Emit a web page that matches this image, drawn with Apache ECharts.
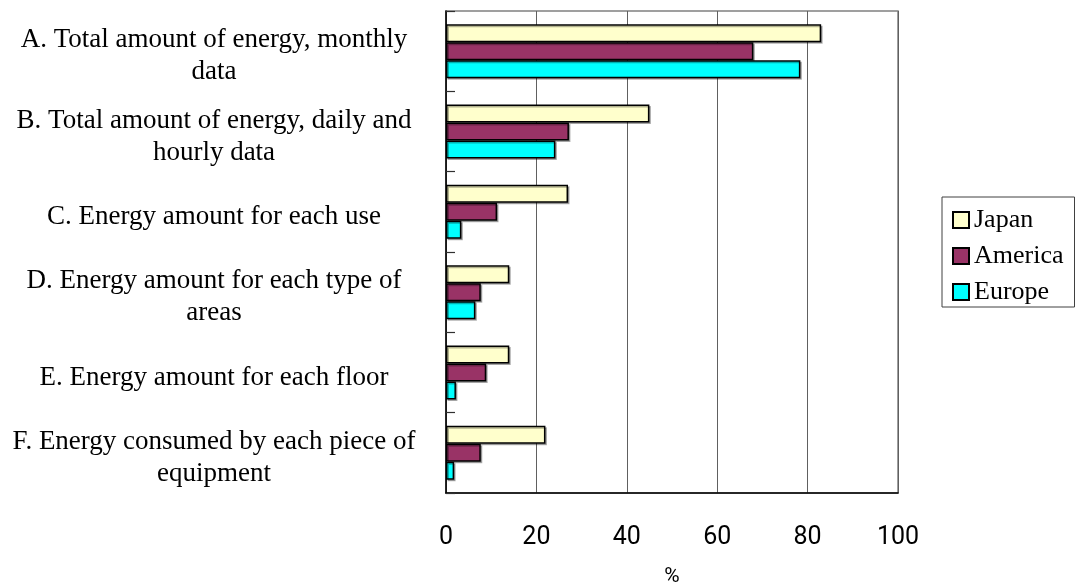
<!DOCTYPE html>
<html>
<head>
<meta charset="utf-8">
<script src="https://cdn.jsdelivr.net/npm/echarts@6/dist/echarts.min.js"></script>
<style>
  html, body { margin: 0; padding: 0; background: #ffffff; }
  #chart { width: 1081px; height: 585px; }
</style>
</head>
<body>
<div id="chart"></div>
<script>
// Categories of energy data collected (top to bottom)
const categories = [
  'A. Total amount of energy, monthly\ndata',
  'B. Total amount of energy, daily and\nhourly data',
  'C. Energy amount for each use',
  'D. Energy amount for each type of\nareas',
  'E. Energy amount for each floor',
  'F. Energy consumed by each piece of\nequipment'
];

// Share of buildings (%) per region
const japan   = [83, 45, 27, 14, 14, 22];
const america = [68, 27.2, 11.3, 7.7, 8.9, 7.7];
const europe  = [78.4, 24.2, 3.4, 6.5, 2.2, 1.8];

const seriesNames = ['Japan', 'America', 'Europe'];
const seriesColors = ['#FFFFCC', '#993366', '#00FFFF'];
const seriesData = [japan, america, europe];

const chart = echarts.init(document.getElementById('chart'), null, { renderer: 'canvas' });

const serif = '"Liberation Serif", "Times New Roman", serif';
const sans = 'Roboto, "Liberation Sans", sans-serif';

// First line gets a taller, bottom-aligned spacer so the label block sits a little lower
function categoryLabel(value) {
  return value.split('\n').map((line, i) =>
    (i === 0 ? '{s|\u200b}' : '') + '{t|' + line + '}'
  ).join('\n');
}

chart.setOption({
  animation: false,
  backgroundColor: '#ffffff',
  grid: {
    left: 446, top: 11, right: 183, bottom: 92,
    show: true,
    borderColor: '#808080',
    borderWidth: 1.5,
    containLabel: false,
    outerBoundsMode: 'none'
  },
  legend: {
    orient: 'vertical',
    left: 942,
    top: 197,
    padding: [10, 11, 2, 10],
    icon: 'rect',
    itemWidth: 16,
    itemHeight: 16,
    itemGap: 10,
    textStyle: { fontFamily: serif, fontSize: 26, color: '#000000' },
    borderColor: '#404040',
    borderWidth: 1,
    data: seriesNames
  },
  xAxis: {
    type: 'value',
    min: 0,
    max: 100,
    interval: 20,
    name: '%',
    nameLocation: 'middle',
    nameGap: 73,
    nameTextStyle: { fontFamily: sans, fontSize: 21, color: '#000000' },
    axisLine: { show: true, lineStyle: { color: '#000000', width: 1.5 } },
    axisTick: { show: false },
    axisLabel: { fontFamily: sans, fontSize: 25, color: '#000000', margin: 32 },
    splitLine: { show: true, lineStyle: { color: '#606060', width: 1 } }
  },
  yAxis: {
    type: 'category',
    inverse: true,
    data: categories,
    axisLine: { show: true, lineStyle: { color: '#000000', width: 1.5 } },
    axisTick: { show: true, inside: true, length: 9, lineStyle: { color: '#303030', width: 1.2 } },
    axisLabel: {
      fontFamily: serif,
      fontSize: 27,
      lineHeight: 32,
      color: '#000000',
      align: 'center',
      margin: 232,
      formatter: categoryLabel,
      rich: {
        s: { fontFamily: serif, fontSize: 27, lineHeight: 37 },
        t: { fontFamily: serif, fontSize: 27, lineHeight: 32, color: '#000000', verticalAlign: 'bottom' }
      }
    },
    splitLine: { show: false }
  },
  series: seriesNames.map((name, i) => ({
    name: name,
    type: 'bar',
    data: seriesData[i],
    barWidth: 18,
    barGap: '0%',
    itemStyle: {
      color: seriesColors[i],
      borderColor: '#000000',
      borderWidth: 1.5,
      shadowColor: 'rgba(0,0,0,0.3)',
      shadowOffsetX: 1.5,
      shadowOffsetY: 1.5,
      shadowBlur: 0
    }
  }))
});
</script>
</body>
</html>
